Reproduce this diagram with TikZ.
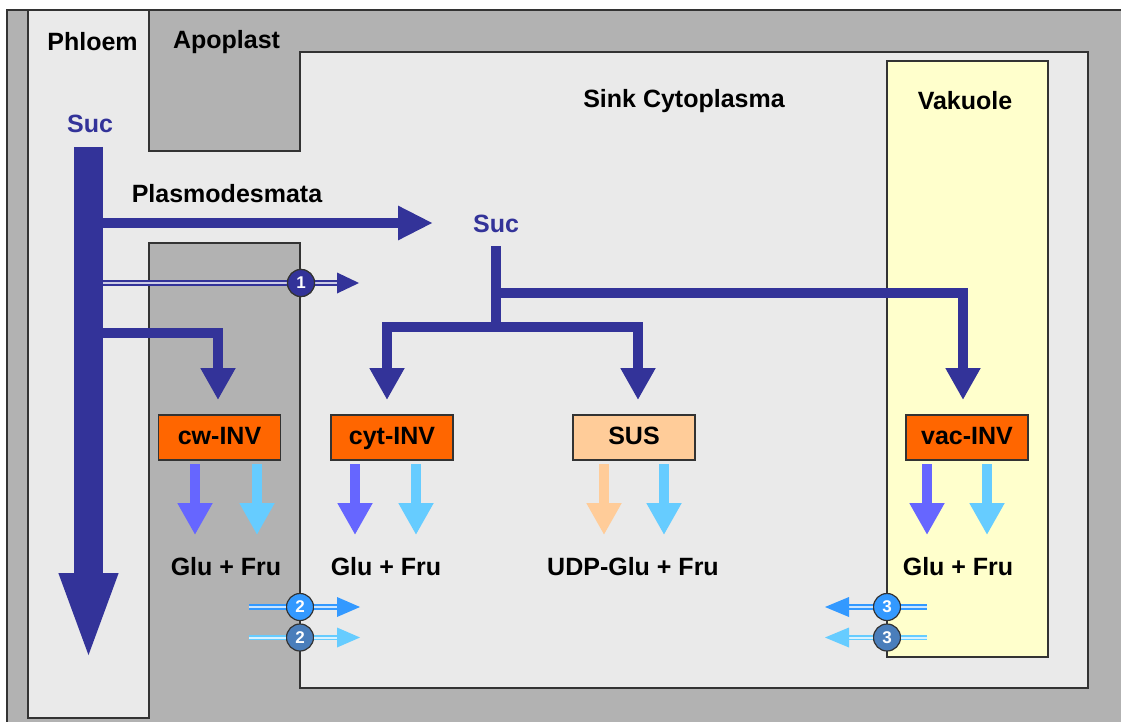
\documentclass[tikz,border=0pt]{standalone}
\usepackage{fontspec}
\setmainfont{Liberation Sans}
\usetikzlibrary{arrows.meta}
\definecolor{bggray}{HTML}{B2B2B2}
\definecolor{lightbg}{HTML}{EAEAEA}
\definecolor{vacyel}{HTML}{FFFFCC}
\definecolor{dblue}{HTML}{333399}
\definecolor{mblue}{HTML}{6666FF}
\definecolor{lblue}{HTML}{66CCFF}
\definecolor{bblue}{HTML}{3399FF}
\definecolor{sblue}{HTML}{4A7EBB}
\definecolor{orng}{HTML}{FF6600}
\definecolor{peach}{HTML}{FFCC99}
\definecolor{edge}{HTML}{333333}
\tikzset{
  lbl/.style={font=\fontsize{25}{29}\selectfont\bfseries, inner sep=0pt},
  suclbl/.style={lbl, text=dblue},
  enz/.style={draw=edge, line width=1.2pt, fill=orng, minimum width=122pt, minimum height=45pt, inner sep=0pt, text height=18pt, text depth=4pt, font=\fontsize{25}{29}\selectfont\bfseries},
  susbox/.style={enz, fill=peach},
  barr/.style={draw=dblue, line width=10pt, -{Triangle[width=33pt,length=32pt]}},
  bline/.style={draw=dblue, line width=10pt},
  sarr/.style={line width=10pt, -{Triangle[width=33pt,length=32pt]}},
  num/.style={circle, draw=edge, line width=1.2pt, minimum size=27pt, inner sep=0pt, text=white, font=\fontsize{17}{17}\selectfont\bfseries},
  dbl/.style={draw=#1, line width=1.6pt, double=#1!25, double distance=2pt}
}
\begin{document}
\begin{tikzpicture}[x=1pt,y=-1pt]
\useasboundingbox (0,0) rectangle (1121,722);
% background
\fill[bggray] (7,10) rectangle (1121,722);
\draw[edge, line width=1.5pt] (7,722) -- (7,10) -- (1121,10);
% phloem + cytoplasm light region
\draw[edge, line width=1.5pt, fill=lightbg] (28,10) -- (149,10) -- (149,151) -- (300,151) -- (300,52) -- (1088,52) -- (1088,688) -- (300,688) -- (300,243) -- (149,243) -- (149,718) -- (28,718) -- cycle;
% vakuole
\draw[edge, line width=1.5pt, fill=vacyel] (887,61) rectangle (1048,657);
% labels
\node[lbl] (phloem) at (92.5,42) {Phloem};
\node[lbl] (apo) at (226.5,42) {Apoplast};
\node[lbl] (sink) at (684,101) {Sink Cytoplasma};
\node[lbl] (vak) at (965,101) {Vakuole};
\node[suclbl] (suc1) at (90,124) {Suc};
\node[lbl] (plasmo) at (227,194) {Plasmodesmata};
\node[suclbl] (suc2) at (496,224) {Suc};
% coordinates
\coordinate (phtop) at (88.5,147);
\coordinate (phtip) at (88.5,663);
\coordinate (pltip) at (433,223);
\coordinate (plstart) at (88.5,223);
\coordinate (apstart) at (88.5,333);
\coordinate (cwtip) at (218,400);
\coordinate (s2top) at (496,246);
\coordinate (s2low) at (496,327);
\coordinate (s2hi) at (496,293);
\coordinate (cyttip) at (387,400);
\coordinate (sustip) at (638,400);
\coordinate (vactip) at (963,400);
% enzyme boxes
\node[enz] (cw) at (219.5,437.5) {cw-INV};
\node[enz] (cyt) at (392,437.5) {cyt-INV};
\node[susbox] (sus) at (634,437.5) {SUS};
\node[enz] (vac) at (967,437.5) {vac-INV};
% products
\node[lbl] (p1) at (226,567) {Glu + Fru};
\node[lbl] (p2) at (386,567) {Glu + Fru};
\node[lbl] (p3) at (633,567) {UDP-Glu + Fru};
\node[lbl] (p4) at (958,567) {Glu + Fru};
% phloem main arrow
\draw[draw=dblue, line width=29pt, -{Triangle[width=52pt,length=90pt]}] (phtop) -- (phtip);
% plasmodesmata
\draw[draw=dblue, line width=9.5pt, -{Triangle[width=32pt,length=35pt]}] (plstart) -- (pltip);
% apoplast to cw
\draw[barr] (apstart) -| (cwtip);
% sink tree
\draw[bline] (s2top) -- (s2low);
\draw[barr] (s2low) -| (cyttip);
\draw[barr] (s2low) -| (sustip);
\draw[barr] (s2hi) -| (vactip);
% small arrows
\draw[sarr, mblue] (195,464) -- (195,535);
\draw[sarr, lblue] (257,464) -- (257,535);
\draw[sarr, mblue] (355,464) -- (355,535);
\draw[sarr, lblue] (416,464) -- (416,535);
\draw[sarr, peach] (604,464) -- (604,535);
\draw[sarr, lblue] (664,464) -- (664,535);
\draw[sarr, mblue] (927,464) -- (927,535);
\draw[sarr, lblue] (987,464) -- (987,535);
% transporter 1
\coordinate (t1s) at (103,283);
\coordinate (t1e) at (338,283);
\node[num, fill=dblue] (c1) at (301,283) {};
\draw[dbl=dblue] (t1s) -- (c1.west);
\draw[dbl=dblue] (c1.east) -- (t1e);
\fill[dblue] (337,272.5) -- (359,283) -- (337,293.5) -- cycle;
\node[num, fill=dblue] at (c1) {1};
% transporter 2
\coordinate (t2as) at (249,607);
\coordinate (t2ae) at (338,607);
\coordinate (t2bs) at (249,637.5);
\coordinate (t2be) at (338,637.5);
\node[num, fill=bblue] (c2a) at (300,607) {2};
\node[num, fill=sblue] (c2b) at (300,637.5) {2};
\draw[dbl=bblue] (t2as) -- (c2a.west);
\draw[dbl=bblue] (c2a.east) -- (t2ae);
\fill[bblue] (337,597) -- (360,607) -- (337,617) -- cycle;
\draw[dbl=lblue] (t2bs) -- (c2b.west);
\draw[dbl=lblue] (c2b.east) -- (t2be);
\fill[lblue] (337,627.5) -- (360,637.5) -- (337,647.5) -- cycle;
% transporter 3
\coordinate (t3as) at (927,607);
\coordinate (t3ae) at (848,607);
\coordinate (t3bs) at (927,637.5);
\coordinate (t3be) at (848,637.5);
\node[num, fill=bblue] (c3a) at (887,607) {3};
\node[num, fill=sblue] (c3b) at (887,637.5) {3};
\draw[dbl=bblue] (t3as) -- (c3a.east);
\draw[dbl=bblue] (c3a.west) -- (t3ae);
\fill[bblue] (849,597) -- (825,607) -- (849,617) -- cycle;
\draw[dbl=lblue] (t3bs) -- (c3b.east);
\draw[dbl=lblue] (c3b.west) -- (t3be);
\fill[lblue] (849,627.5) -- (825,637.5) -- (849,647.5) -- cycle;
\end{tikzpicture}
\end{document}
